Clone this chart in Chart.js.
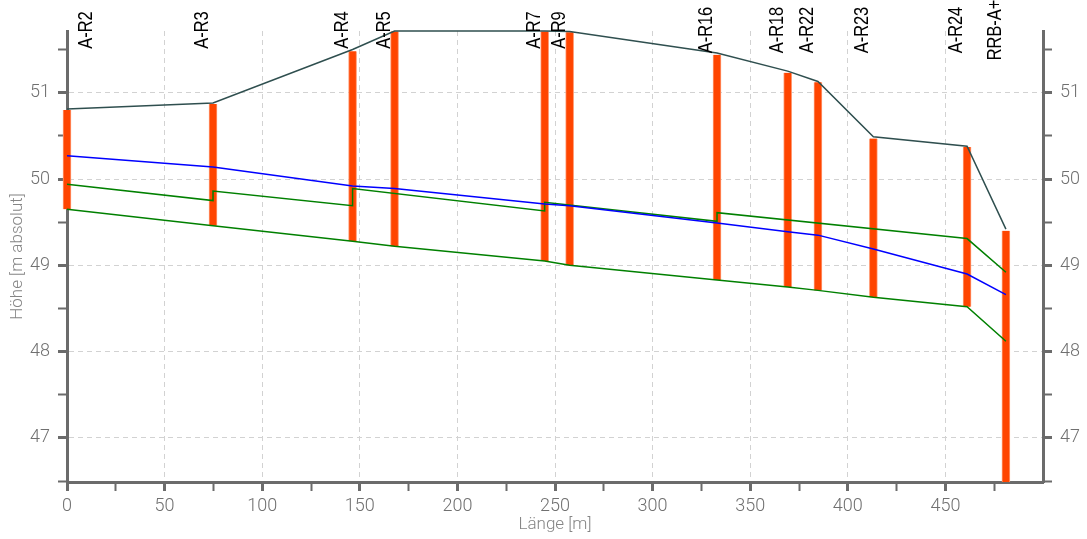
<!DOCTYPE html>
<html>
<head>
<meta charset="utf-8">
<script src="https://cdn.jsdelivr.net/npm/chart.js@4/dist/chart.umd.min.js"></script>
<style>
  html, body { margin: 0; padding: 0; background: #fff; }
  canvas { display: block; }
</style>
</head>
<body>
<canvas id="c" width="1087" height="539"></canvas>
<script>
// ---- data ----
const manholes     = ['A-R2','A-R3','A-R4','A-R5','A-R7','A-R9','A-R16','A-R18','A-R22','A-R23','A-R24','RRB-A+'];
const station      = [0, 74.8, 146.3, 167.8, 244.7, 257.5, 333.0, 369.2, 384.7, 413.1, 461.1, 481.0];
const coverLevel   = [50.80, 50.87, 51.48, 51.71, 51.71, 51.70, 51.44, 51.23, 51.12, 50.47, 50.37, 49.40];
const shaftBottom  = [49.65, 49.46, 49.28, 49.22, 49.05, 49.00, 48.83, 48.75, 48.71, 48.63, 48.52, 46.49];
const groundLevel  = [50.81, 50.88, 51.50, 51.715, 51.715, 51.71, 51.46, 51.25, 51.13, 50.49, 50.38, 49.42];
const waterLevel   = [50.27, 50.14, 49.92, 49.89, 49.71, 49.69, 49.49, 49.39, 49.35, 49.19, 48.90, 48.66];
const invertLevel  = [49.65, 49.46, 49.28, 49.22, 49.05, 49.00, 48.83, 48.75, 48.71, 48.63, 48.52, 48.12];
const crownStation = [0, 74.8, 74.8, 146.3, 146.3, 244.7, 244.7, 333.0, 333.0, 461.1, 481.0];
const crownLevel   = [49.94, 49.75, 49.86, 49.69, 49.89, 49.63, 49.73, 49.51, 49.61, 49.31, 48.92];
const xMin = 0, xMax = 500;
const yMin = 46.49, yMax = 51.715;

// ---- helpers ----
const pts = (xs, ys) => xs.map((x, i) => ({ x: x, y: ys[i] }));
const AXIS = '#6b6b6b';
const GRID = '#d2d2d2';
const CLEAR = 'rgba(0,0,0,0)';
const isInt = v => Math.abs(v - Math.round(v)) < 1e-6;
const tickFont = { family: 'Roboto', size: 18, weight: 300 };
const titleFont = { family: 'Roboto', size: 17, weight: 300 };

const manholeLabels = {
  id: 'manholeLabels',
  afterDatasetsDraw(chart) {
    const { ctx, chartArea } = chart;
    const xs = chart.scales.x;
    ctx.save();
    ctx.fillStyle = '#000';
    ctx.font = '20px "Liberation Sans", Arial, sans-serif';
    ctx.textAlign = 'center';
    ctx.textBaseline = 'alphabetic';
    manholes.forEach((name, i) => {
      const px = xs.getPixelForValue(station[i]);
      const bx = Math.max(px - 5, chartArea.left + 25);
      ctx.save();
      ctx.translate(bx, 30);
      ctx.rotate(-Math.PI / 2);
      ctx.scale(0.82, 1);
      ctx.fillText(name, 0, 0);
      ctx.restore();
    });
    ctx.restore();
  }
};

const yCommon = (pos) => ({
  type: 'linear',
  position: pos,
  min: yMin,
  max: yMax,
  border: { display: true, width: 3, color: AXIS, dash: [5, 4] },
  grid: {
    drawOnChartArea: pos === 'left',
    color: c => (c.tick && isInt(c.tick.value)) ? GRID : CLEAR,
    lineWidth: 1,
    tickLength: 9,
    tickWidth: c => (c.tick && isInt(c.tick.value)) ? 3 : 2,
    tickColor: AXIS
  },
  ticks: {
    stepSize: 0.5,
    includeBounds: false,
    autoSkip: false,
    padding: 8,
    color: '#707070',
    font: tickFont,
    callback: v => isInt(v) ? String(Math.round(v)) : ''
  }
});

const yLeft = yCommon('left');
yLeft.afterFit = s => { s.width = 67; };
yLeft.title = { display: true, text: 'Höhe [m absolut]', color: '#858585', font: titleFont, padding: { top: 8, bottom: 0 } };
const yRight = yCommon('right');
yRight.afterFit = s => { s.width = 44; };

const lineStyle = { pointRadius: 0, borderWidth: 1.5, tension: 0, order: 1, yAxisID: 'y', clip: 4 };

new Chart(document.getElementById('c'), {
  data: {
    datasets: [
      Object.assign({ type: 'line', label: 'Gelände', data: pts(station, groundLevel), borderColor: '#2F4F4F' }, lineStyle),
      Object.assign({ type: 'line', label: 'Wasserspiegel', data: pts(station, waterLevel), borderColor: '#0000FF' }, lineStyle),
      Object.assign({ type: 'line', label: 'Rohrscheitel', data: pts(crownStation, crownLevel), borderColor: '#008000' }, lineStyle),
      Object.assign({ type: 'line', label: 'Rohrsohle', data: pts(station, invertLevel), borderColor: '#008000' }, lineStyle),
      { type: 'bar', label: 'Schächte', data: station.map((x, i) => ({ x: x, y: [shaftBottom[i], coverLevel[i]] })),
        backgroundColor: '#FF4500', borderColor: '#ff9a72', borderWidth: { left: 1, right: 1, top: 0, bottom: 0 }, borderSkipped: false,
        barThickness: 8, grouped: false, order: 5, yAxisID: 'y', clip: { left: 8, right: 8, top: 0, bottom: 0 } }
    ]
  },
  options: {
    responsive: false,
    animation: false,
    devicePixelRatio: 1,
    layout: { padding: { top: 31, left: 0, right: 0, bottom: 0 } },
    plugins: { legend: { display: false }, tooltip: { enabled: false } },
    scales: {
      x: {
        type: 'linear',
        position: 'bottom',
        offset: false,
        min: xMin,
        max: xMax,
        afterFit: s => { s.height = 57; },
        border: { display: true, width: 3, color: AXIS, dash: [5, 4] },
        grid: {
          offset: false,
          color: c => (c.tick && c.tick.value % 50 === 0 && c.tick.value > xMin && c.tick.value < xMax) ? GRID : CLEAR,
          lineWidth: 1,
          tickLength: 9,
          tickWidth: c => (c.tick && c.tick.value % 50 === 0) ? 3 : 2,
          tickColor: c => (c.tick && c.tick.value >= xMax) ? CLEAR : AXIS
        },
        ticks: {
          stepSize: 25,
          autoSkip: false,
          includeBounds: false,
          maxRotation: 0,
          padding: 5,
          color: '#707070',
          font: tickFont,
          callback: v => (v % 50 === 0 && v < xMax) ? String(v) : ''
        },
        title: { display: true, text: 'Länge [m]', color: '#858585', font: titleFont, padding: { top: 0, bottom: 4 } }
      },
      y: yLeft,
      y2: yRight
    }
  },
  plugins: [manholeLabels]
});
</script>
</body>
</html>
